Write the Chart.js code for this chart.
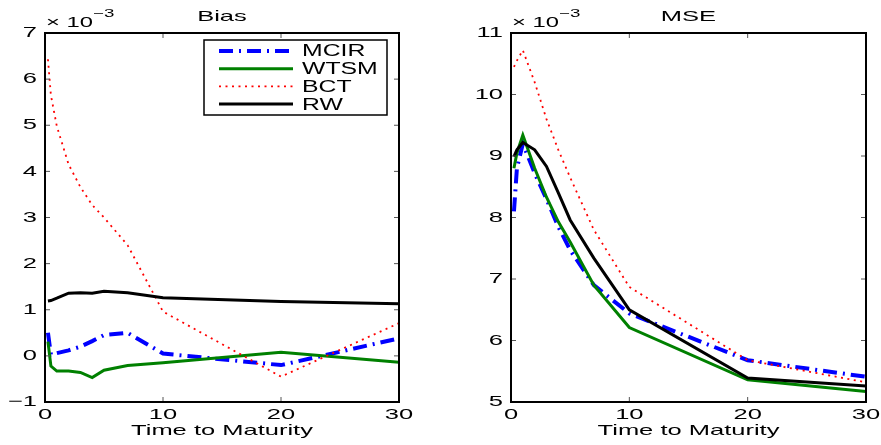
<!DOCTYPE html>
<html>
<head>
<meta charset="utf-8">
<script src="https://cdn.jsdelivr.net/npm/chart.js@4.4.1/dist/chart.umd.min.js"></script>
<style>
  body { margin: 0; background: #fff; }
  #wrap { position: relative; width: 881px; height: 445px; }
  canvas { position: absolute; top: 0; }
</style>
</head>
<body>
<div id="wrap">
  <canvas id="bias" width="440" height="445" style="left:0"></canvas>
  <canvas id="mse" width="441" height="445" style="left:440px"></canvas>
</div>
<script>
// maturities (years) and values in units of 1e-3
const maturity = [0.25, 0.5, 1, 2, 3, 4, 5, 7, 10, 20, 30];

const biasMCIR = [0.5, 0.03, 0.06, 0.12, 0.2, 0.32, 0.45, 0.5, 0.05, -0.2, 0.38];
const biasWTSM = [0.31, -0.22, -0.33, -0.33, -0.36, -0.47, -0.31, -0.21, -0.15, 0.08, -0.14];
const biasBCT  = [6.43, 5.65, 4.98, 4.15, 3.66, 3.27, 3.0, 2.4, 0.96, -0.45, 0.71];
const biasRW   = [1.19, 1.2, 1.25, 1.36, 1.37, 1.36, 1.4, 1.37, 1.26, 1.18, 1.13];

const mseMCIR = [8.1, 8.8, 9.2, 8.72, 8.3, 7.85, 7.47, 6.9, 6.44, 5.68, 5.41];
const mseWTSM = [8.8, 9.05, 9.34, 8.8, 8.33, 7.93, 7.6, 6.9, 6.21, 5.36, 5.17];
const mseBCT  = [10.45, 10.55, 10.72, 10.2, 9.6, 9.1, 8.65, 7.8, 6.87, 5.68, 5.32];
const mseRW   = [8.99, 9.1, 9.22, 9.1, 8.83, 8.4, 7.96, 7.34, 6.5, 5.39, 5.26];

const seriesNames = ['MCIR', 'WTSM', 'BCT', 'RW'];
const xTicks = [0, 10, 20, 30];
const biasTicks = [-1, 0, 1, 2, 3, 4, 5, 6, 7];
const mseTicks = [5, 6, 7, 8, 9, 10, 11];

const FONT = '"Liberation Sans", Arial, Helvetica, sans-serif';
const STRETCH = 1.7;

// text is drawn wider than tall, like the original figure
function txt(ctx, s, x, y, align, size, sx) {
    ctx.save();
    ctx.translate(x, y);
    ctx.scale(sx || STRETCH, 1);
    ctx.font = size + 'px ' + FONT;
    ctx.fillStyle = '#000';
    ctx.textAlign = align;
    ctx.textBaseline = 'middle';
    ctx.fillText(s, 0, 0);
    ctx.restore();
}

function pts(ys) {
    return maturity.map((m, i) => ({ x: m, y: ys[i] }));
}

const styles = [
    { borderColor: '#0000ff', borderWidth: 4, borderDash: [14, 6, 2, 6], order: 4 },
    { borderColor: '#008000', borderWidth: 3, borderDash: [], order: 3 },
    { borderColor: '#ff0000', borderWidth: 1.8, borderDash: [2, 4.5], order: 2 },
    { borderColor: '#000000', borderWidth: 3, borderDash: [], order: 1 }
];

function makeSets(lists) {
    return lists.map((ys, i) => Object.assign({
        label: seriesNames[i],
        data: pts(ys),
        pointRadius: 0,
        tension: 0,
        fill: false
    }, styles[i]));
}

// MATLAB-like box, inward ticks, labels, title and legend
const matlabAxes = {
    id: 'matlabAxes',
    afterDraw(chart, args, opts) {
        const ctx = chart.ctx;
        const a = chart.chartArea;
        const xs = chart.scales.x, ys = chart.scales.y;

        ctx.save();
        ctx.strokeStyle = '#555';
        ctx.lineWidth = 1;
        xTicks.forEach(v => {
            const px = xs.getPixelForValue(v);
            ctx.beginPath();
            ctx.moveTo(px, a.bottom); ctx.lineTo(px, a.bottom - 5);
            ctx.moveTo(px, a.top); ctx.lineTo(px, a.top + 5);
            ctx.stroke();
        });
        opts.yTicks.forEach(v => {
            const py = ys.getPixelForValue(v);
            ctx.beginPath();
            ctx.moveTo(a.left, py); ctx.lineTo(a.left + 5, py);
            ctx.moveTo(a.right, py); ctx.lineTo(a.right - 5, py);
            ctx.stroke();
        });
        ctx.strokeStyle = '#000';
        ctx.lineWidth = 2;
        ctx.strokeRect(a.left, a.top, a.right - a.left, a.bottom - a.top);
        ctx.restore();

        xTicks.forEach(v => {
            txt(ctx, String(v), xs.getPixelForValue(v), a.bottom + 13, 'center', 15);
        });
        opts.yTicks.forEach(v => {
            const s = v < 0 ? '\u2212' + Math.abs(v) : String(v);
            txt(ctx, s, a.left - 8, ys.getPixelForValue(v), 'right', 15);
        });

        txt(ctx, 'Time to Maturity', (a.left + a.right) / 2, a.bottom + 29, 'center', 15);
        txt(ctx, opts.title, (a.left + a.right) / 2, 17, 'center', 15);
        txt(ctx, '\u00d7 10', a.left + 1, 23, 'left', 14);
        txt(ctx, '\u22123', a.left + 48, 14, 'left', 11);

        if (opts.legend) {
            const bx = a.right - 195, by = a.top + 7, bw = 183, bh = 75;
            ctx.save();
            ctx.fillStyle = '#fff';
            ctx.fillRect(bx, by, bw, bh);
            ctx.strokeStyle = '#000';
            ctx.lineWidth = 1.5;
            ctx.strokeRect(bx, by, bw, bh);
            chart.data.datasets.forEach((d, i) => {
                const ly = by + 11 + i * 17.7;
                ctx.strokeStyle = d.borderColor;
                ctx.lineWidth = d.borderWidth;
                ctx.setLineDash(d.borderDash);
                ctx.beginPath();
                ctx.moveTo(bx + 15, ly);
                ctx.lineTo(bx + 89, ly);
                ctx.stroke();
                ctx.setLineDash([]);
                txt(ctx, d.label, bx + 98, ly + 1, 'left', 16, 1.55);
            });
            ctx.restore();
        }
    }
};

function makeChart(id, lists, yMin, yMax, yTicks, yWidth, pad, title, legend) {
    return new Chart(document.getElementById(id), {
        type: 'line',
        data: { datasets: makeSets(lists) },
        options: {
            responsive: false,
            animation: false,
            layout: { padding: pad },
            plugins: {
                legend: { display: false },
                tooltip: { enabled: false },
                matlabAxes: { title: title, legend: legend, yTicks: yTicks }
            },
            scales: {
                x: {
                    type: 'linear', min: 0, max: 30,
                    ticks: { display: false, stepSize: 10 },
                    grid: { display: false },
                    border: { display: false },
                    afterFit(s) { s.height = 43; }
                },
                y: {
                    min: yMin, max: yMax,
                    ticks: { display: false, stepSize: 1 },
                    grid: { display: false },
                    border: { display: false },
                    afterFit(s) { s.width = yWidth; }
                }
            }
        },
        plugins: [matlabAxes]
    });
}

makeChart('bias', [biasMCIR, biasWTSM, biasBCT, biasRW], -1, 7, biasTicks, 45,
    { left: 0, top: 33, right: 41, bottom: 0 }, 'Bias', true);
makeChart('mse', [mseMCIR, mseWTSM, mseBCT, mseRW], 5, 11, mseTicks, 71,
    { left: 0, top: 33, right: 15, bottom: 0 }, 'MSE', false);
</script>
</body>
</html>
